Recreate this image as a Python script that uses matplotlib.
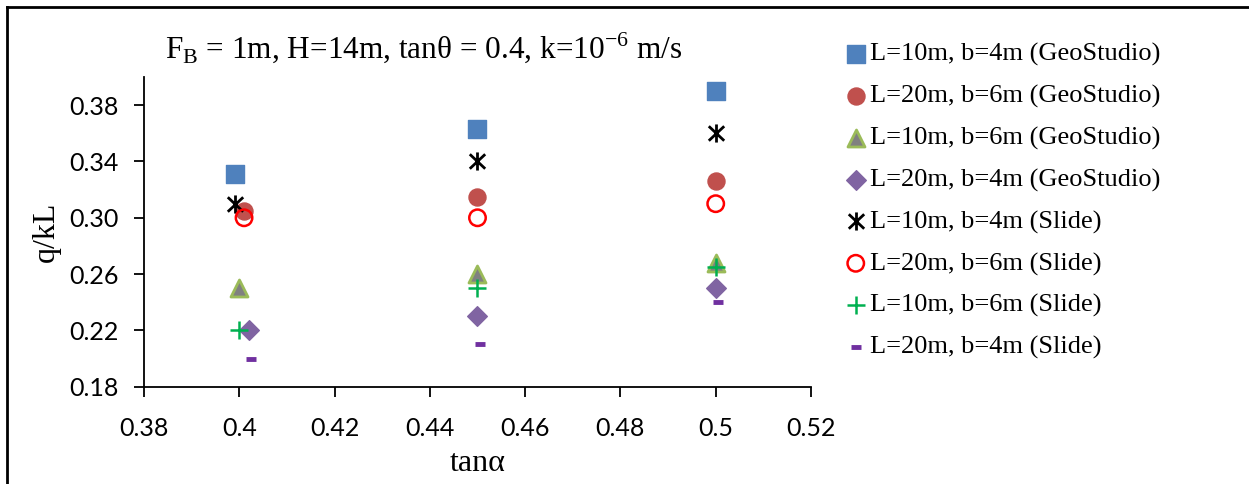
import matplotlib.pyplot as plt
from matplotlib.lines import Line2D
from matplotlib.path import Path

# tan(alpha) positions (slightly offset per series, as in the source chart)
x_sq = [0.399, 0.45, 0.50]
y_sq = [0.331, 0.363, 0.390]
x_ci = [0.401, 0.45, 0.50]
y_ci = [0.305, 0.315, 0.326]
x_tr = [0.400, 0.45, 0.50]
y_tr = [0.250, 0.260, 0.268]
x_di = [0.402, 0.45, 0.50]
y_di = [0.220, 0.230, 0.250]
x_st = [0.399, 0.45, 0.50]
y_st = [0.310, 0.340, 0.360]
x_oc = [0.401, 0.45, 0.50]
y_oc = [0.300, 0.300, 0.310]
x_pl = [0.400, 0.45, 0.50]
y_pl = [0.220, 0.250, 0.265]
x_da = [0.4025, 0.4505, 0.5005]
y_da = [0.200, 0.210, 0.240]

labels = ["L=10m, b=4m (GeoStudio)", "L=20m, b=6m (GeoStudio)",
          "L=10m, b=6m (GeoStudio)", "L=20m, b=4m (GeoStudio)",
          "L=10m, b=4m (Slide)", "L=20m, b=6m (Slide)",
          "L=10m, b=6m (Slide)", "L=20m, b=4m (Slide)"]

serif = "Liberation Serif"
tickfont = "Lato"

# excel-style star: X with a vertical bar
star = Path([(0, -1), (0, 1), (-0.85, -0.8), (0.85, 0.8), (-0.85, 0.8), (0.85, -0.8)],
            [Path.MOVETO, Path.LINETO, Path.MOVETO, Path.LINETO, Path.MOVETO, Path.LINETO])

fig = plt.figure(figsize=(12.49, 4.84), dpi=100)
ax = fig.add_axes([144 / 1249, 1 - 386.7 / 484, (811 - 144) / 1249, (386.7 - 77) / 484])

h = []
h.append(ax.scatter(x_sq, y_sq, marker="s", s=150, color="#4F81BD", label=labels[0], zorder=3))
h.append(ax.scatter(x_ci, y_ci, marker="o", s=150, color="#C0504D", label=labels[1], zorder=3))
h.append(ax.scatter(x_tr, y_tr, marker="^", s=150, facecolor="#808080", edgecolor="#9BBB59",
                    linewidth=2, label=labels[2], zorder=3))
h.append(ax.scatter(x_di, y_di, marker="D", s=100, color="#8064A2", label=labels[3], zorder=3))
h.append(ax.scatter(x_st, y_st, marker=star, s=170, color="black", linewidth=2,
                    label=labels[4], zorder=4))
h.append(ax.scatter(x_oc, y_oc, marker="o", s=140, facecolor="none", edgecolor="#FF0000",
                    linewidth=1.8, label=labels[5], zorder=4))
h.append(ax.scatter(x_pl, y_pl, marker="+", s=150, color="#00B050", linewidth=1.8,
                    label=labels[6], zorder=4))
h.append(ax.scatter(x_da, y_da, marker="_", s=60, color="#7030A0", linewidth=3.5,
                    label=labels[7], zorder=4))

ax.set_xlim(0.38, 0.52)
ax.set_ylim(0.18, 0.40)
ax.set_xticks([0.38, 0.40, 0.42, 0.44, 0.46, 0.48, 0.50, 0.52])
ax.set_xticklabels(["0.38", "0.4", "0.42", "0.44", "0.46", "0.48", "0.5", "0.52"])
ax.set_yticks([0.18, 0.22, 0.26, 0.30, 0.34, 0.38])
ax.set_yticklabels(["0.18", "0.22", "0.26", "0.30", "0.34", "0.38"])
for lab in ax.get_xticklabels() + ax.get_yticklabels():
    lab.set_family(tickfont)
    lab.set_fontsize(18)
ax.tick_params(direction="out", length=7, width=1.3)
ax.tick_params(axis="x", pad=15)
ax.tick_params(axis="y", pad=11)
ax.spines["top"].set_visible(False)
ax.spines["right"].set_visible(False)
ax.spines["left"].set_linewidth(1.3)
ax.spines["bottom"].set_linewidth(1.3)

ax.set_xlabel("tan\u03b1", family=serif, fontsize=23, labelpad=6)
ax.set_ylabel("q/kL", family=serif, fontsize=23, labelpad=6)

fig.text(165 / 1249, 1 - 48 / 484,
         "F$_\\mathregular{B}$ = 1m, H=14m, tan\u03b8 = 0.4, k=10$^\\mathregular{-6}$ m/s",
         family=serif, fontsize=22.5, va="center", ha="left")

leg = fig.legend(handles=h, labels=labels, loc="upper left",
                 bbox_to_anchor=(832 / 1249, 1 - 32 / 484), frameon=False,
                 prop={"family": serif, "size": 19}, handletextpad=0.05,
                 handlelength=1.0, labelspacing=0.68, borderaxespad=0)

# chart-area frame (left and top edges visible)
fig.add_artist(Line2D([7 / 1249, 7 / 1249], [0, 1 - 7 / 484], color="black", lw=2,
                      transform=fig.transFigure))
fig.add_artist(Line2D([7 / 1249, 1], [1 - 7 / 484, 1 - 7 / 484], color="black", lw=2,
                      transform=fig.transFigure))

fig.savefig("out.png", dpi=100)
